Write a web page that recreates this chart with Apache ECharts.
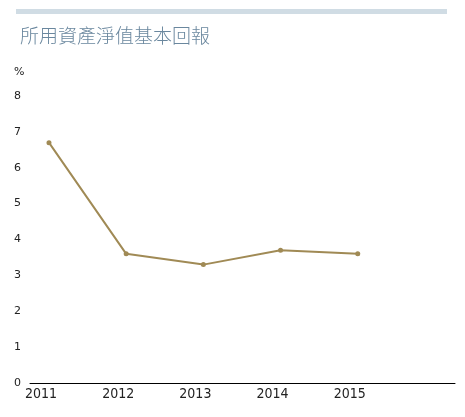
<!DOCTYPE html>
<html><head><meta charset="utf-8">
<script src="https://cdn.jsdelivr.net/npm/echarts@6/dist/echarts.min.js"></script>
<style>html,body{margin:0;padding:0;background:#fff}#c{width:465px;height:417px}</style>
</head><body><div id="c"></div>
<script>
var years = [2011, 2012, 2013, 2014, 2015];
var returns = [6.7, 3.6, 3.3, 3.7, 3.6];

var chart = echarts.init(document.getElementById('c'));
chart.setOption({
    animation: false,
    title: {
        text: '所用資產淨值基本回報', left: 15, top: 21,
        textStyle: {fontFamily: 'Noto Sans CJK TC', fontSize: 19, fontWeight: 300, color: '#6a879e'}
    },
    graphic: [
        {type: 'rect', shape: {x: 16, y: 9, width: 431, height: 5}, style: {fill: '#d0dce4'}},
        {type: 'text', left: 14, top: 67, style: {text: '%', fontSize: 11, fontFamily: 'DejaVu Sans', fill: '#222'}}
    ],
    grid: {left: 30, right: 10, top: 96, bottom: 34},
    xAxis: {
        type: 'value', min: 2010.754, max: 2016.26,
        splitLine: {show: false},
        axisLine: {show: true, onZero: false, lineStyle: {color: '#000', width: 1}},
        axisTick: {show: false},
        axisLabel: {customValues: years, formatter: function (v) { return String(v); },
            fontSize: 14, color: '#222', fontFamily: 'DejaVu Sans Condensed', margin: 4,
            align: 'center', padding: [0, 16, 0, 0]}
    },
    yAxis: {
        type: 'value', min: 0, max: 8, interval: 1,
        splitLine: {show: false}, axisLine: {show: false}, axisTick: {show: false},
        axisLabel: {fontSize: 11, color: '#222', fontFamily: 'DejaVu Sans', align: 'left', margin: 16}
    },
    series: [{
        type: 'line',
        data: years.map(function (y, i) { return [y, returns[i]]; }),
        symbol: 'circle', symbolSize: 5,
        lineStyle: {color: '#a08a55', width: 2},
        itemStyle: {color: '#a08a55'}
    }]
});
</script></body></html>
